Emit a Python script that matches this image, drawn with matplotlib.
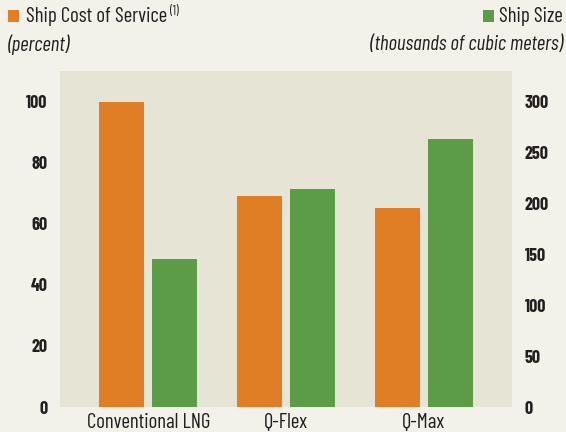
import matplotlib
matplotlib.use("Agg")
import matplotlib.pyplot as plt
from matplotlib.patches import Rectangle
import numpy as np

# data
ships = ["Conventional LNG", "Q-Flex", "Q-Max"]
cost_pct = [100, 69, 65]          # ship cost of service, percent
size_kcm = [145, 214, 263]        # ship size, thousands of cubic meters

orange = "#E07E26"
green = "#5C9C46"
bg = "#F2F1EA"
panel = "#E5E4D5"
ink = "#231F20"

plt.rcParams['font.family'] = ['Barlow Condensed', 'DejaVu Sans']

W, H = 566, 432
fig = plt.figure(figsize=(W / 100, H / 100), dpi=100, facecolor=bg)

# axes placement in pixels
L, R, T, B = 60, 512, 71, 407
ax = fig.add_axes([L / W, 1 - B / H, (R - L) / W, (B - T) / H])
ax.set_facecolor(panel)
ax2 = ax.twinx()

x = np.arange(len(ships))
w = 0.326
off = 0.192
ax.bar(x - off, cost_pct, w, color=orange, zorder=2)
ax2.bar(x + off, size_kcm, w, color=green, zorder=2)

ax.set_xlim(-0.64, 2.64)
ax.set_ylim(0, 110)
ax2.set_ylim(0, 330)
ax.set_yticks([0, 20, 40, 60, 80, 100])
ax2.set_yticks([0, 50, 100, 150, 200, 250, 300])
ax.set_xticks(x)
ax.set_xticklabels(ships, fontsize=15, color=ink)

for a in (ax, ax2):
    for s in a.spines.values():
        s.set_visible(False)
    a.tick_params(length=0)
ax.tick_params(axis='y', pad=9)
ax.tick_params(axis='x', pad=4)
ax2.tick_params(axis='y', pad=9)
for lab in ax.get_yticklabels() + ax2.get_yticklabels():
    lab.set_fontweight('bold')
    lab.set_fontsize(13)
    lab.set_color(ink)

def fx(px):
    return px / W

def fy(py):
    return 1 - py / H

# legend squares and headers
fig.patches.append(Rectangle((fx(8), fy(22)), 11 / W, 12 / H, transform=fig.transFigure,
                             facecolor=orange, edgecolor='none'))
fig.text(fx(26), fy(16), "Ship Cost of Service", fontsize=15, color=ink, va='center', ha='left')
fig.text(fx(170), fy(12), "(1)", fontsize=9, color=ink, va='center', ha='left')
fig.text(fx(8), fy(45), "(percent)", fontsize=15, style='italic', color=ink, va='center', ha='left')

fig.patches.append(Rectangle((fx(483), fy(22)), 11 / W, 12 / H, transform=fig.transFigure,
                             facecolor=green, edgecolor='none'))
fig.text(fx(563), fy(16), "Ship Size", fontsize=15, color=ink, va='center', ha='right')
fig.text(fx(563), fy(45), "(thousands of cubic meters)", fontsize=15, style='italic',
         color=ink, va='center', ha='right')

fig.savefig("out.png", dpi=100, facecolor=bg)
